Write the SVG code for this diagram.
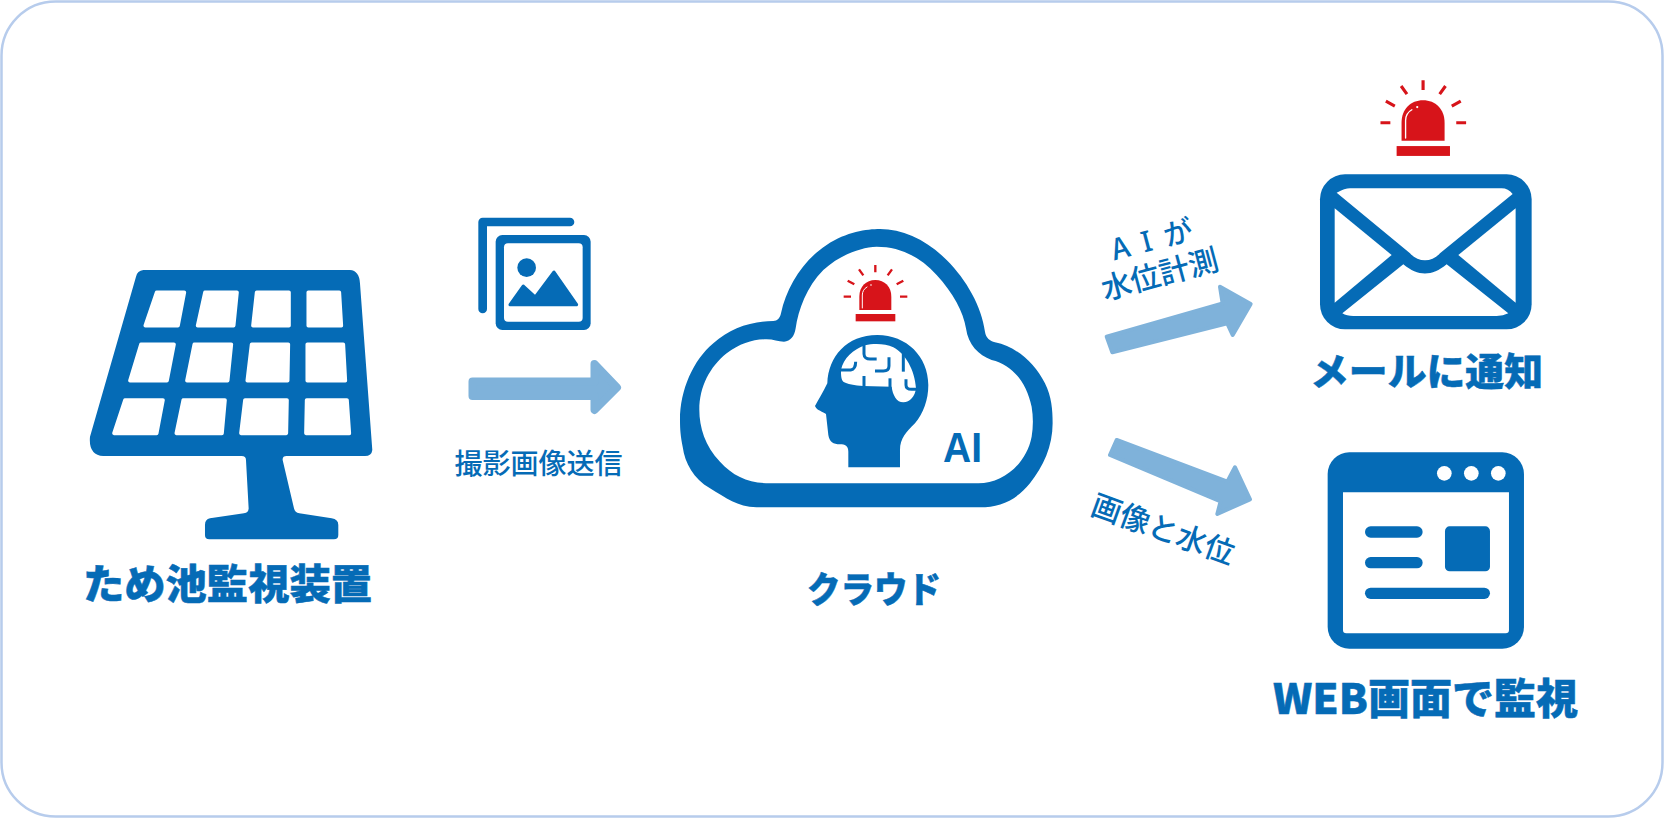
<svg xmlns="http://www.w3.org/2000/svg" width="1664" height="818" viewBox="0 0 1664 818">
<style>
.b{fill:#056bb6}
.w{fill:#fff}
.arrow{fill:#7fb2da;stroke:#7fb2da;stroke-width:12;stroke-linejoin:round}
.ln{fill:none;stroke:#056bb6;stroke-linecap:round}
text{fill:#056bb6;font-family:"Noto Sans CJK JP","Noto Sans",sans-serif}
.h{font-weight:900;stroke:#056bb6;stroke-width:.5}
.r{font-weight:500}
</style>
<defs>
<g id="alarm">
<rect x="197" y="162" width="119" height="22" fill="#d7141a"/>
<path d="M208 150V110C208 80 228 60 256 60C284 60 304 80 304 110V150Z" fill="#d7141a"/>
<path d="M217 144V105C217 95 222 86 231 81" fill="none" stroke="#fff" stroke-width="3" stroke-linecap="round"/>
<circle cx="243" cy="75" r="2.500" fill="#fff"/>
<path d="M161 110H183M173 62L193 73M207 28L220 46M256 15V37M306 28L293 46M340 62L320 73M352 110H330" fill="none" stroke="#d7141a" stroke-width="7"/>
</g>
</defs>
<rect x="1.500" y="1.500" width="1661" height="815" rx="54" fill="#fff" stroke="#b7ccec" stroke-width="2.500"/>
<g id="connectors">
<path fill="#7fb2da" stroke="#7fb2da" stroke-width="8" stroke-linejoin="round" d="M472.500 381.500H594.500V364L617 387.500L594.500 410V396H472.500Z"/>
<g transform="translate(1080 210) scale(.3333)">
<path class="arrow" d="M80 380L428 280L420 230L512 282L458 375L442 340L97 427Z"/>
<path class="arrow" d="M110 690L442 815L465 772L510 868L412 912L422 874L90 735Z"/>
</g>
</g>
<g id="solar-panel">
<g transform="translate(60 240) scale(.3333)">
<path class="b" d="M250 90H870Q898 92 900 130L937 630Q935 648 915 648H680Q667 648 668 660L702 805Q705 818 718 820L815 835Q835 838 835 855V885Q835 898 822 898H448Q435 898 435 885V855Q435 838 450 835L552 820Q566 818 566 805L558 660Q558 648 545 648H130Q85 645 90 590L228 110Q232 92 250 90Z"/>
<g class="w" stroke="#fff" stroke-width="11" stroke-linejoin="round">
<path d="M290 157H373L354 257H256Z"/><path d="M435 157H531L521 257H413Z"/><path d="M590 157H687V257H579Z"/><path d="M745 157H838L844 257H745Z"/>
<path d="M243 313H342L321 422H210Z"/><path d="M403 313H514L503 422H381Z"/><path d="M575 313H685L683 422H562Z"/><path d="M742 313H850L856 422H742Z"/>
<path d="M195 480H309L290 580H162Z"/><path d="M370 480H495L486 580H349Z"/><path d="M555 480H681L679 580H543Z"/><path d="M740 480H861L868 580H738Z"/>
</g>
</g>
<text class="h" x="83" y="599" font-size="41" textLength="289" lengthAdjust="spacingAndGlyphs">ため池監視装置</text>
</g>
<g id="image-send">
<g transform="translate(430 200) scale(.3333)">
<path class="ln" stroke-width="26" stroke-linejoin="round" d="M158 327V66H420"/>
<rect class="b" x="197" y="105" width="285" height="285" rx="20"/>
<rect class="w" x="222" y="130" width="236" height="235" rx="12"/>
<circle class="b" cx="290" cy="203" r="28"/>
<path class="b" stroke="#056bb6" stroke-width="9" stroke-linejoin="round" d="M240 314L280 258L316 291L372 216L440 314Z"/>
</g>
<text class="r" x="538.500" y="474" font-size="28" text-anchor="middle">撮影画像送信</text>
</g>
<g id="cloud">
<g transform="translate(670 220) scale(.3333)">
<path class="b" fill-rule="evenodd" d="M30 600C30 510 70 420 130 370C180 325 240 305 310 303C322 303 330 295 333 280C350 200 400 120 470 75C530 35 590 27 630 27C700 27 770 60 830 120C890 180 935 260 945 335C948 355 960 362 975 367C1040 380 1095 430 1125 490C1145 530 1148 570 1148 610C1148 680 1120 740 1080 790C1040 840 990 862 930 862L260 862C200 860 170 835 120 805C70 775 45 730 38 680C32 650 30 630 30 600ZM88 570C88 620 105 680 150 725C190 770 240 790 300 790L925 790C1000 790 1070 730 1085 650C1090 620 1090 590 1085 560C1070 490 1030 435 965 420C925 405 895 375 888 325C880 275 850 220 800 165C750 110 690 80 620 80C570 82 510 105 460 150C410 200 385 270 377 325C373 350 362 363 342 365C325 365 310 358 290 358C250 358 210 370 170 400C120 440 88 500 88 570Z"/>
</g>
<use href="#alarm" transform="translate(790 260) scale(.3333)"/>
<g transform="translate(790 260) scale(.3333)">
<path class="b" d="M175 622V575C175 558 165 553 150 553C130 553 118 545 115 525L108 462C100 455 80 452 75 438C85 420 100 395 112 370C115 290 170 225 262 225C350 225 415 290 415 375C415 420 400 460 375 490C350 515 330 535 330 570V622Z"/>
<path class="w" d="M153 330C160 295 190 268 225 256C250 250 285 250 310 262C345 280 375 330 378 385C375 410 360 427 340 427C320 427 308 405 305 380L220 378C195 376 170 372 160 365C153 358 153 345 153 330Z"/>
<g fill="none" stroke="#056bb6" stroke-width="9">
<path d="M222 252V282C222 292 230 297 240 297H260"/>
<path d="M297 292V318C297 328 290 333 280 333H255"/>
<path d="M340 278V335"/>
<path d="M150 330H182C192 328 197 318 197 305"/>
<path d="M222 348V382"/>
<path d="M300 355V385"/>
<path d="M348 358V375C348 384 355 388 365 388H380"/>
</g>
</g>
<text x="943" y="462" font-size="42" textLength="39" lengthAdjust="spacingAndGlyphs" style="font-family:'Liberation Sans',sans-serif;font-weight:700">AI</text>
<text class="h" x="874" y="603" font-size="36" text-anchor="middle" textLength="134" lengthAdjust="spacingAndGlyphs">クラウド</text>
</g>
<g id="label-ai">
<g transform="rotate(-15 1152 240)"><text class="r" x="1152" y="250" font-size="29" text-anchor="middle">A<tspan dx="13" style="font-family:'Noto Sans',sans-serif">I</tspan><tspan dx="13">が</tspan></text></g>
<g transform="rotate(-15 1160 275)"><text class="r" x="1160" y="285" font-size="30" text-anchor="middle">水位計測</text></g>
</g>
<g id="label-image">
<g transform="rotate(20 1163 530)"><text class="r" x="1163" y="540" font-size="30" text-anchor="middle">画像と水位</text></g>
</g>
<g id="mail">
<use href="#alarm" transform="translate(1423.300 151) scale(.4483) translate(-256.500 -173)"/>
<g transform="translate(1290 70) scale(.3333)">
<rect class="b" x="90" y="313" width="635" height="465" rx="75"/>
<g class="w">
<path d="M140 368Q165 355 180 355H635Q655 355 668 372L450 550C425 578 385 578 360 550Z"/>
<path d="M134 415L305 555L134 698Z"/>
<path d="M677 415L505 555L677 698Z"/>
<path d="M157 730L340 583C385 620 425 620 470 583L655 730Q640 738 620 738H190Q170 738 157 730Z"/>
</g>
</g>
<text class="h" x="1310" y="385" font-size="38" textLength="233" lengthAdjust="spacingAndGlyphs">メールに通知</text>
</g>
<g id="web">
<g transform="translate(1260 440) scale(.3333)">
<rect class="b" x="203" y="37" width="589" height="589" rx="65"/>
<path class="w" d="M249 157H747V570Q747 580 737 580H259Q249 580 249 570Z"/>
<circle class="w" cx="553" cy="100" r="22"/><circle class="w" cx="634" cy="100" r="22"/><circle class="w" cx="715" cy="100" r="22"/>
<rect class="b" x="315" y="259" width="173" height="34" rx="17"/>
<rect class="b" x="315" y="351" width="173" height="34" rx="17"/>
<rect class="b" x="315" y="443" width="375" height="34" rx="17"/>
<rect class="b" x="555" y="259" width="135" height="135" rx="14"/>
</g>
<text class="h" x="1273" y="714" font-size="42" textLength="305" lengthAdjust="spacingAndGlyphs">WEB画面で監視</text>
</g>
</svg>
